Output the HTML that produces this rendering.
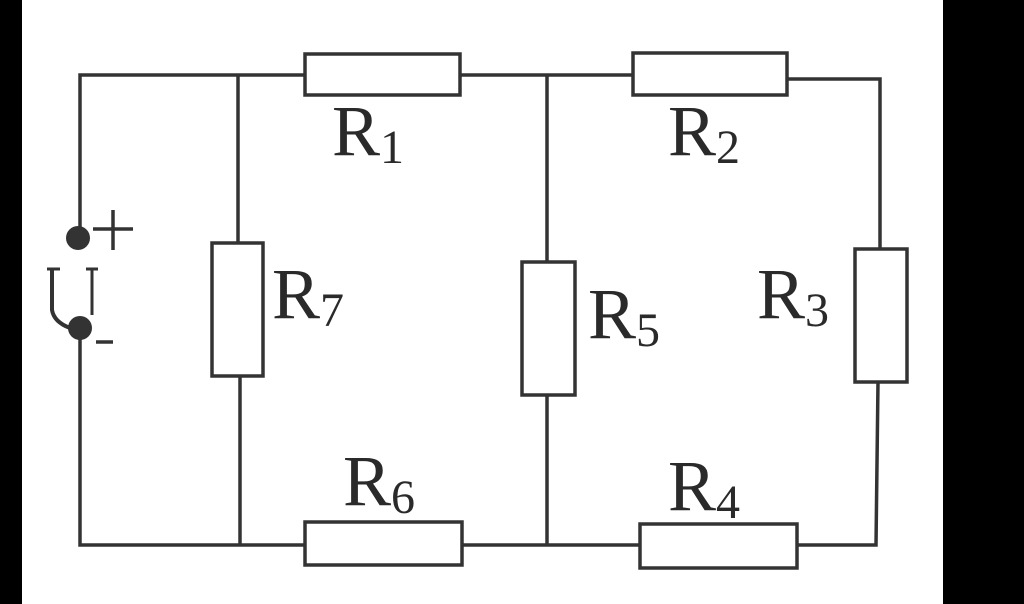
<!DOCTYPE html>
<html><head><style>
html,body{margin:0;padding:0;background:#000;}
svg{display:block}
text{font-family:"Liberation Serif",serif;fill:#2a2a2a}
</style></head><body>
<svg width="1024" height="604" viewBox="0 0 1024 604">
<rect x="22" y="0" width="921" height="604" fill="#fff"/>
<g stroke="#333" stroke-width="3.5" fill="none">
<!-- top wire -->
<polyline points="80,230 80,75 305,75"/>
<line x1="460" y1="75" x2="633" y2="75"/>
<polyline points="787,79 880,79 880,249"/>
<!-- R1 -->
<rect x="305" y="54" width="155" height="41" fill="#fff"/>
<!-- R2 -->
<rect x="633" y="53" width="154" height="42" fill="#fff"/>
<!-- R3 -->
<rect x="855" y="249" width="52" height="133" fill="#fff"/>
<polyline points="878,382 876,545 797,545"/>
<!-- left -->
<polyline points="80,335 80,545 305,545"/>
<!-- R7 -->
<line x1="238" y1="75" x2="238" y2="243"/>
<rect x="212" y="243" width="51" height="133" fill="#fff"/>
<line x1="240" y1="376" x2="240" y2="545"/>
<!-- R5 -->
<line x1="547" y1="75" x2="547" y2="262"/>
<rect x="522" y="262" width="53" height="133" fill="#fff"/>
<line x1="547" y1="395" x2="547" y2="545"/>
<!-- bottom -->
<rect x="305" y="522" width="157" height="43" fill="#fff"/>
<line x1="462" y1="545" x2="640" y2="545"/>
<rect x="640" y="524" width="157" height="44" fill="#fff"/>
<!-- plus/minus -->
<line x1="93" y1="229" x2="133" y2="229"/>
<line x1="113" y1="210" x2="113" y2="250"/>
<line x1="96" y1="342" x2="113" y2="342"/>
</g>
<circle cx="78" cy="238" r="12" fill="#333"/>
<circle cx="80" cy="328" r="12" fill="#333"/>
<path d="M52 269 L52 310 Q54 322 70 328" stroke="#333" stroke-width="4" fill="none"/>
<line x1="92" y1="269" x2="92" y2="315" stroke="#333" stroke-width="3"/>
<line x1="47" y1="269" x2="60" y2="269" stroke="#333" stroke-width="3"/>
<line x1="86" y1="269" x2="98" y2="269" stroke="#333" stroke-width="3"/>
<text x="332" y="155" font-size="72">R<tspan font-size="48" dy="8">1</tspan></text>
<text x="668" y="155" font-size="72">R<tspan font-size="48" dy="8">2</tspan></text>
<text x="272" y="318" font-size="72">R<tspan font-size="48" dy="8">7</tspan></text>
<text x="588" y="338" font-size="72">R<tspan font-size="48" dy="8">5</tspan></text>
<text x="757" y="318" font-size="72">R<tspan font-size="48" dy="8">3</tspan></text>
<text x="343" y="505" font-size="72">R<tspan font-size="48" dy="8">6</tspan></text>
<text x="668" y="510" font-size="72">R<tspan font-size="48" dy="8">4</tspan></text>
</svg>
</body></html>
